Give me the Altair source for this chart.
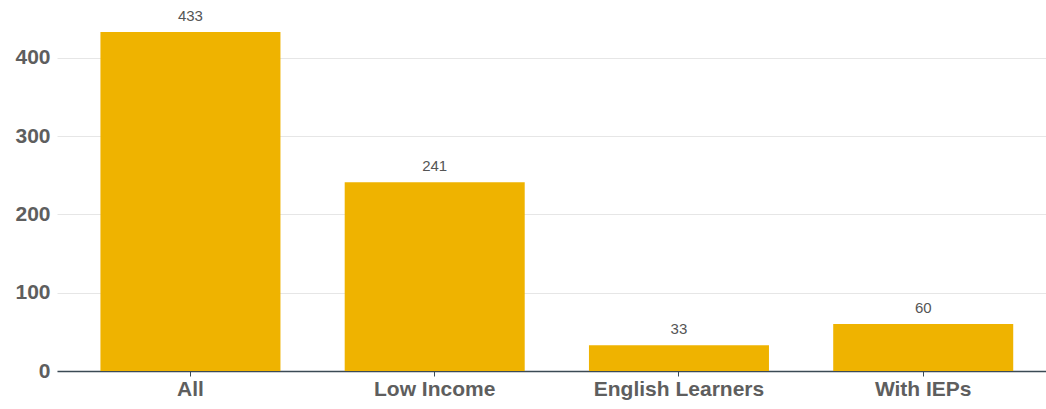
import altair as alt
import pandas as pd

categories = ["All", "Low Income", "English Learners", "With IEPs"]
values = [433, 241, 33, 60]

df = pd.DataFrame({"group": categories, "count": values})

base = alt.Chart(df).encode(
    x=alt.X(
        "group:N",
        sort=categories,
        title=None,
        scale=alt.Scale(paddingInner=0.263, paddingOuter=0.156, align=0.57),
        axis=alt.Axis(
            labelAngle=0,
            labelFont="Liberation Sans",
            labelFontSize=21,
            labelColor="#5e5e5e",
            labelFontWeight="bold",
            labelPadding=2,
            domainColor="#3b4a55",
            domainWidth=1.5,
            tickColor="#3b4a55",
            tickSize=5,
            grid=False,
        ),
    ),
    y=alt.Y(
        "count:Q",
        title=None,
        scale=alt.Scale(domain=[0, 474], nice=False),
        axis=alt.Axis(
            values=[0, 100, 200, 300, 400],
            labelFont="Liberation Sans",
            labelFontSize=21,
            labelFontWeight="bold",
            labelColor="#5e5e5e",
            labelPadding=7,
            domain=False,
            ticks=False,
            gridColor="#e6e6e6",
            gridWidth=1,
        ),
    ),
)

bars = base.mark_bar(color="#EFB300")
labels = base.mark_text(
    dy=-16, font="Liberation Sans", fontSize=15, color="#555555"
).encode(text="count:Q")

chart = (
    (bars + labels)
    .properties(
        width=989,
        height=371,
        autosize=alt.AutoSizeParams(type="none"),
        padding={"left": 57, "top": 0, "right": 0, "bottom": 38},
    )
    .configure_view(stroke=None)
)

chart.save("out.html", embed_options={"renderer": "svg", "actions": False})
